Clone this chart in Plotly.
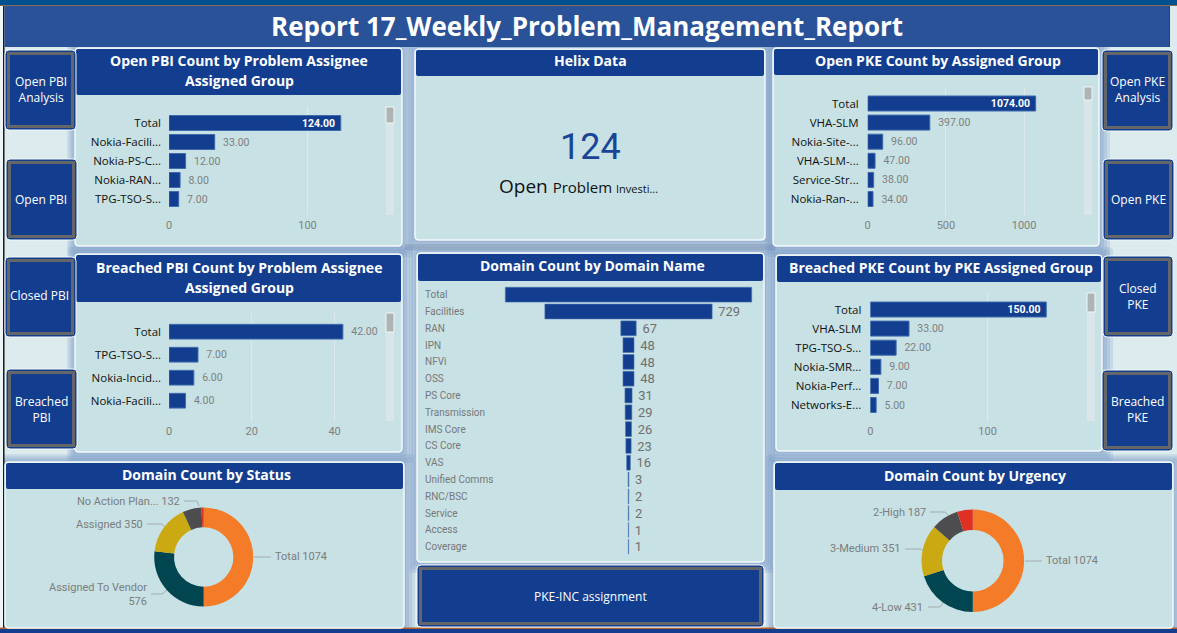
import plotly.graph_objects as go

W, H = 1177, 633
LEFT_PUSH = 3  # plotly reserves this many px on the left of the paper area

# ---- data ----
open_pbi_groups = ["Total", "Nokia-Facili...", "Nokia-PS-C...", "Nokia-RAN...", "TPG-TSO-S..."]
open_pbi_counts = [124, 33, 12, 8, 7]
breached_pbi_groups = ["Total", "TPG-TSO-S...", "Nokia-Incid...", "Nokia-Facili..."]
breached_pbi_counts = [42, 7, 6, 4]
open_pke_groups = ["Total", "VHA-SLM", "Nokia-Site-...", "VHA-SLM-...", "Service-Str...", "Nokia-Ran-..."]
open_pke_counts = [1074, 397, 96, 47, 38, 34]
breached_pke_groups = ["Total", "VHA-SLM", "TPG-TSO-S...", "Nokia-SMR...", "Nokia-Perf...", "Networks-E..."]
breached_pke_counts = [150, 33, 22, 9, 7, 5]
domain_names = ["Total", "Facilities", "RAN", "IPN", "NFVi", "OSS", "PS Core", "Transmission",
                "IMS Core", "CS Core", "VAS", "Unified Comms", "RNC/BSC", "Service", "Access", "Coverage"]
domain_counts = [1074, 729, 67, 48, 48, 48, 31, 29, 26, 23, 16, 3, 2, 2, 1, 1]
status_labels = ["Total", "Assigned To Vendor", "Assigned", "No Action Plan...", "Other"]
status_counts = [1074, 576, 350, 132, 16]
urgency_labels = ["Total", "4-Low", "3-Medium", "2-High", "1-Critical"]
urgency_counts = [1074, 431, 351, 187, 105]
helix_value = 124
helix_caption = ["Open", "Problem", "Investi..."]
slice_colors = ["#f47b27", "#00454f", "#cba912", "#4d4d4f", "#e02f23"]

NAVY = "#133e8f"
PANEL = "#c7e1e4"
GREY = "#808080"
HEAD = "Open Sans"
NUM = "Roboto"


def fx(x):
    return (x - LEFT_PUSH) / (W - LEFT_PUSH)


def fy(y):
    return 1 - y / H


def rr(x0, y0, x1, y1, r=3):
    a, b, c, d = fx(x0), fy(y0), fx(x1), fy(y1)
    rx, ry = r / (W - LEFT_PUSH), r / H
    return (f"M {a+rx},{b} L {c-rx},{b} Q {c},{b} {c},{b-ry} L {c},{d+ry} Q {c},{d} {c-rx},{d} "
            f"L {a+rx},{d} Q {a},{d} {a},{d+ry} L {a},{b-ry} Q {a},{b} {a+rx},{b} Z")


shapes, notes = [], []


def box(x0, y0, x1, y1, fill, line=None, lw=0, r=0):
    shapes.append(dict(type="path", path=rr(x0, y0, x1, y1, r), xref="paper", yref="paper", fillcolor=fill,
                       line=dict(color=line or fill, width=lw), layer="below"))


def text(x, y, s, size=12, color="white", family=HEAD, anchor="center", vanchor="middle", align="center"):
    notes.append(dict(x=fx(x), y=fy(y), xref="paper", yref="paper", text=s, showarrow=False, xanchor=anchor,
                      yanchor=vanchor, align=align, font=dict(size=size, color=color, family=family),
                      xshift=0, yshift=1 if family == HEAD else 0, borderpad=0, borderwidth=0))


def leader(points):
    p = " L ".join(f"{fx(a)},{fy(b)}" for a, b in points)
    shapes.append(dict(type="path", path="M " + p, xref="paper", yref="paper", line=dict(color="#a3adaf", width=1),
                       layer="below"))


def shadow(x0, y0, x1, y1, color="rgba(110,145,195,0.20)", steps=(11, 8, 5, 2)):
    for k in steps:
        box(x0 - k * 0.7, y0 - k * 0.7, x1 + k, y1 + k, color, r=4)


def panel(x0, y0, x1, y1, head_bottom, titles, title_cx):
    box(x0, y0, x1, y1, PANEL, "#f4f9fa", 1.5, 4)
    box(x0 + 1, y0 + 1, x1 - 1, head_bottom, NAVY, r=2)
    for title, ty in titles:
        text(title_cx, ty, f"<b>{title}</b>", size=14)


def button(x0, y0, x1, y1, label, cx, cy):
    box(x0, y0, x1, y1, NAVY, "#f4f9fa", 1, 4)
    box(x0 + 3.5, y0 + 3.5, x1 - 3.5, y1 - 3.5, NAVY, "#646668", 3)
    text(cx, cy, label, size=12)


# ---- page background ----
box(0, 0, W, H, "#dcebee")
for g in [(75, 48, 402, 246), (415, 49, 765, 240), (773, 48, 1099, 246), (75, 254, 402, 452), (417, 253, 764, 562),
          (776, 255, 1102, 451), (5, 462, 404, 628), (774, 462, 1173, 628)]:
    shadow(*g)
box(405, 244, 775, 250, "rgba(120,140,170,0.35)")
box(0, 0, 3, H, "#eef5f6")
box(3, 0, 4.5, H, "#1a1a1a")
box(0, 0, W, 5, "#00508f")
box(0, 5, W, 6, "#8a6a55")
box(4.5, 6, 1169, 47, "#2a5298")
box(1169, 6, 1170, 47, "#31405e")
box(0, 628, W, 633, NAVY)
box(0, 627.5, W, 629, "#b5602a")
text(587, 27, "<b>Report 17_Weekly_Problem_Management_Report</b>", size=26, family=HEAD)

# ---- panels ----
panel(75, 48, 402, 246, 95, [("Open PBI Count by Problem Assignee", 61), ("Assigned Group", 81)], 239)
panel(75, 254, 402, 452, 302, [("Breached PBI Count by Problem Assignee", 268), ("Assigned Group", 288)], 239)
panel(773, 48, 1099, 246, 75, [("Open PKE Count by Assigned Group", 61)], 938)
panel(776, 255, 1102, 451, 282, [("Breached PKE Count by PKE Assigned Group", 268)], 941)
panel(415, 49, 765, 240, 76, [("Helix Data", 61.5)], 590)
panel(417, 253, 764, 562, 281, [("Domain Count by Domain Name", 266)], 592)
panel(5, 462, 404, 628, 489, [("Domain Count by Status", 475)], 206)
panel(774, 462, 1173, 628, 490, [("Domain Count by Urgency", 476)], 975)

for b in [(5, 50, 76, 130, "Open PBI<br>Analysis", 41, 91), (6, 159, 77, 240, "Open PBI", 41, 200),
          (5, 257, 76, 337, "Closed PBI", 40, 296), (6, 369, 77, 449, "Breached<br>PBI", 41, 410),
          (1102, 50, 1173, 131, "Open PKE<br>Analysis", 1137, 91), (1103, 159, 1174, 240, "Open PKE", 1138, 200),
          (1103, 256, 1173, 337, "Closed<br>PKE", 1138, 297), (1102, 370, 1173, 451, "Breached<br>PKE", 1137, 410),
          (417, 565, 764, 627, "PKE-INC assignment", 590, 597)]:
    button(*b)

text(590, 147, str(helix_value), size=36, color="#1a4496", family=NUM)
text(578, 187, f'<span style="font-size:19px">{helix_caption[0]} </span><span style="font-size:15px">{helix_caption[1]} </span>'
     f'<span style="font-size:11px">{helix_caption[2]}</span>', color="#111111", family=HEAD)

fig = go.Figure()
layout_axes = {}
axis_no = [0]


def hbar(cats, vals, x0, per, xr, ytop, ybot, first, step, bar_h, inside_total, dtick, label_right, scroll_x, thumb):
    axis_no[0] += 1
    n = axis_no[0]
    suf = "" if n == 1 else str(n)
    texts = ["\u2002" + f"{v:.2f}" for v in vals]
    pos = ["outside"] * len(vals)
    if inside_total:
        texts[0] = f"<b>{vals[0]:.2f}</b>\u00a0"
        pos[0] = "inside"
    colors = ["white" if p == "inside" else GREY for p in pos]
    fig.add_trace(go.Bar(x=vals, y=cats, orientation="h", xaxis=f"x{suf}", yaxis=f"y{suf}", width=bar_h / step,
                         marker=dict(color=NAVY, line=dict(color="#3f6aad", width=1)), text=texts, textposition=pos,
                         insidetextanchor="end", constraintext="none", cliponaxis=False,
                         textfont=dict(color=colors, size=10.5, family=NUM), showlegend=False))
    layout_axes[f"xaxis{suf}"] = dict(domain=[fx(x0), fx(xr)], range=[0, (xr - x0) / per], anchor=f"y{suf}",
                                      dtick=dtick, showgrid=True, gridcolor="#dde9eb", gridwidth=1, zeroline=False,
                                      showline=False, ticks="", tickfont=dict(size=11, color=GREY, family=NUM),
                                      ticklabelstandoff=2)
    layout_axes[f"yaxis{suf}"] = dict(domain=[fy(ybot), fy(ytop)], anchor=f"x{suf}", type="category",
                                      categoryorder="array", categoryarray=cats,
                                      range=[(ybot - first) / step, (ytop - first) / step], showgrid=False,
                                      zeroline=False, showline=False, ticks="",
                                      tickfont=dict(size=11.5, color="#111111", family=HEAD),
                                      ticklabelstandoff=int(round(x0 - label_right - 1)))
    box(scroll_x, ytop, scroll_x + 8, ybot, "#d9e6e9")
    box(scroll_x, ytop, scroll_x + 8, ytop + thumb, "#aeb3b3", "#f2f6f7", 1)


hbar(open_pbi_groups, open_pbi_counts, 169, 1.385, 381, 107, 215, 123, 19, 15, True, 100, 161, 386, 16)
hbar(breached_pbi_groups, breached_pbi_counts, 169, 4.14, 381, 313, 421, 331.7, 23, 14.7, False, 20, 161, 386, 19)
hbar(open_pke_groups, open_pke_counts, 867.7, 0.1564, 1080, 87, 215, 103.5, 19.1, 15, True, 500, 859, 1084, 13)
hbar(breached_pke_groups, breached_pke_counts, 870.3, 1.173, 1082, 293, 421, 309.5, 19.1, 15, True, 100, 861.7, 1087, 19)

# ---- funnel ----
axis_no[0] += 1
fsuf = str(axis_no[0])
fig.add_trace(go.Funnel(x=domain_counts, y=domain_names, orientation="h", xaxis="x" + fsuf, yaxis="y" + fsuf,
                        text=[""] + ["\u00a0" + str(v) for v in domain_counts[1:]], textinfo="text", textposition="outside",
                        textfont=dict(size=14, color="#6f6f6f", family=NUM), cliponaxis=False,
                        connector=dict(visible=False), marker=dict(color=NAVY, line=dict(color="#4a74b4", width=0.6)),
                        showlegend=False))
f_first, f_step, f_top, f_bot, f_mid, f_per, f_l, f_r = 294.7, 16.8, 286, 555, 628.5, 0.2294, 423, 762
layout_axes["xaxis" + fsuf] = dict(domain=[fx(f_l), fx(f_r)], range=[(f_l - f_mid) / f_per, (f_r - f_mid) / f_per],
                                   anchor="y" + fsuf, visible=False)
layout_axes["yaxis" + fsuf] = dict(domain=[fy(f_bot), fy(f_top)], anchor="x" + fsuf, type="category",
                                   categoryorder="array", categoryarray=domain_names,
                                   range=[(f_bot - f_first) / f_step, (f_top - f_first) / f_step], visible=False)
for name in domain_names:
    notes.append(dict(x=0, xref=f"x{fsuf} domain", y=name, yref="y" + fsuf, text=name, showarrow=False, xanchor="left",
                      yanchor="middle", font=dict(size=10, color="#77787a", family=NUM)))

# ---- donuts ----
def donut(labels, vals, cx, cy, r):
    fig.add_trace(go.Pie(labels=labels, values=vals, hole=0.6, sort=False, direction="clockwise", rotation=0,
                         textinfo="none", showlegend=False,
                         marker=dict(colors=slice_colors, line=dict(width=0)),
                         domain=dict(x=[fx(cx - r), fx(cx + r)], y=[fy(cy + r), fy(cy - r)])))


donut(status_labels, status_counts, 203.7, 557, 49.5)
donut(urgency_labels, urgency_counts, 972.8, 560.7, 51.3)

LBL = dict(size=11, color="#7d7d7d", family=NUM)
text(180, 501, f"{status_labels[3]} {status_counts[3]}", anchor="right", **LBL)
text(143, 524, f"{status_labels[2]} {status_counts[2]}", anchor="right", **LBL)
text(147, 594, f"{status_labels[1]}<br>{status_counts[1]}", anchor="right", align="right", **LBL)
text(275, 556, f"{status_labels[0]} {status_counts[0]}", anchor="left", **LBL)
leader([(184, 501), (197, 501), (199, 506)])
leader([(147, 524), (162, 524), (166, 528)])
leader([(151, 594), (162, 594), (167, 590)])
leader([(254, 557), (271, 557)])
text(926, 512, f"{urgency_labels[3]} {urgency_counts[3]}", anchor="right", **LBL)
text(901, 548, f"{urgency_labels[2]} {urgency_counts[2]}", anchor="right", **LBL)
text(923, 607, f"{urgency_labels[1]} {urgency_counts[1]}", anchor="right", **LBL)
text(1046, 560, f"{urgency_labels[0]} {urgency_counts[0]}", anchor="left", **LBL)
leader([(930, 512), (945, 512), (950, 517)])
leader([(905, 549), (921, 549), (924, 551)])
leader([(928, 607), (940, 607), (943, 603)])
leader([(1025, 561), (1042, 561)])

fig.update_layout(width=W, height=H, margin=dict(l=0, r=0, t=0, b=0, pad=0), autosize=False, paper_bgcolor="#dcebee",
                  plot_bgcolor="rgba(0,0,0,0)", funnelgap=0.12, shapes=shapes, annotations=notes, **layout_axes)
fig.write_html("out.html", config={"displayModeBar": False},
               post_script="document.body.style.margin='0';document.body.style.overflow='hidden';")
